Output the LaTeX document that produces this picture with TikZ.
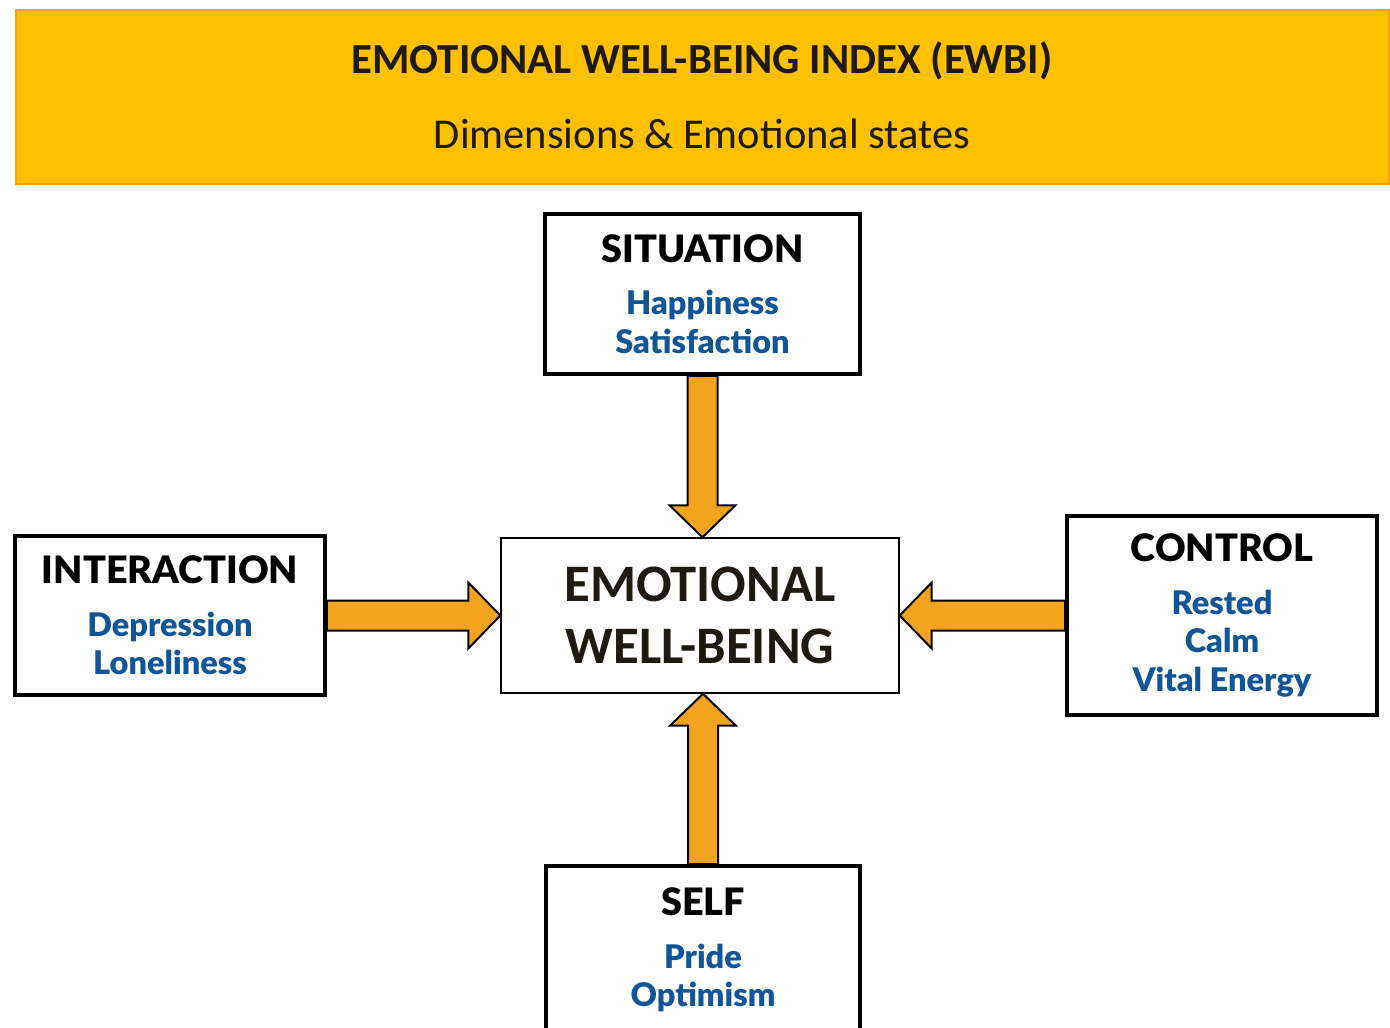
\documentclass[tikz,border=0pt]{standalone}
\usepackage{fontspec}
\setmainfont{Carlito}
\newfontfamily\boxfont{Lato}[BoldFont={Lato Black}]
\usetikzlibrary{calc,backgrounds}

\definecolor{bannerfill}{HTML}{FFC000}
\definecolor{bannerline}{HTML}{F4A11C}
\definecolor{arrowfill}{HTML}{F4A31E}
\definecolor{statecol}{HTML}{0F5597}
\definecolor{textdark}{HTML}{1E1A10}

\newcommand{\dimtitle}[1]{{\fontsize{21.5}{24}\selectfont\color{black}#1}}

\tikzset{
  dimbox/.style={draw=black, line width=0.08cm, fill=white, inner sep=0pt,
    minimum width=6.3cm, minimum height=3.2cm, align=center, text=statecol,
    font=\boxfont\bfseries\fontsize{18.5}{22}\selectfont},
  % block arrow from \tikztostart to \tikztotarget
  fatarrow/.style={draw=black, line width=0.04cm, fill=arrowfill, line join=miter,
    to path={
      ($(\tikztostart)!0.3cm!90:(\tikztotarget)$)
      -- ($(\tikztotarget)!0.64cm!(\tikztostart) + (\tikztostart)!0.3cm!90:(\tikztotarget) - (\tikztostart)$)
      -- ($(\tikztotarget)!0.64cm!(\tikztostart) + (\tikztostart)!0.66cm!90:(\tikztotarget) - (\tikztostart)$)
      -- (\tikztotarget)
      -- ($(\tikztotarget)!0.64cm!(\tikztostart) + (\tikztostart)!0.66cm!-90:(\tikztotarget) - (\tikztostart)$)
      -- ($(\tikztotarget)!0.64cm!(\tikztostart) + (\tikztostart)!0.3cm!-90:(\tikztotarget) - (\tikztostart)$)
      -- ($(\tikztostart)!0.3cm!-90:(\tikztotarget)$)
      -- cycle}}
}

\begin{document}
\begin{tikzpicture}[x=0.02cm, y=-0.02cm]
    \useasboundingbox (0,0) rectangle (1390,1028);
    \clip (0,0) rectangle (1390,1028);

    % banner
    \draw [fill=bannerfill, draw=bannerline, line width=0.04cm] (16,10) rectangle (1389,184);
    \node [anchor=base, text=textdark, font=\bfseries\fontsize{24.4}{28}\selectfont] (title) at (702,73) {EMOTIONAL WELL-BEING INDEX (EWBI)};
    \node [anchor=base, text=textdark, font=\fontsize{24.2}{28}\selectfont] (subtitle) at (702,148) {Dimensions \& Emotional states};

    % centre
    \node [draw=black, line width=0.03cm, minimum width=7.96cm, minimum height=3.1cm, align=center,
        text=textdark, font=\bfseries\fontsize{30}{35.7}\selectfont] (ewb) at (700,615.5) {EMOTIONAL\\WELL-BEING};

    % dimensions
    \node [dimbox] (sit) at (702.5,294) {\dimtitle{SITUATION}\\[8pt]Happiness\\Satisfaction};
    \node [dimbox, minimum width=6.2cm, minimum height=3.18cm] (inter) at (170,615.5) {\dimtitle{INTERACTION}\\[8pt]Depression\\Loneliness};
    \node [dimbox, minimum width=6.2cm, minimum height=3.98cm] (ctrl) at (1222,615.5) {\dimtitle{CONTROL}\\[8pt]Rested\\Calm\\Vital Energy};
    \node [dimbox, minimum height=3.36cm] (self) at (703,950) {\dimtitle{SELF}\\[8pt]Pride\\Optimism};

    \begin{scope}[on background layer]
    \draw [fatarrow] (sit.south) to (sit.south |- ewb.north);
    \draw [fatarrow] (inter.east) to (inter.east -| ewb.west);
    \draw [fatarrow] (ctrl.west) to (ctrl.west -| ewb.east);
    \draw [fatarrow] (self.north) to (self.north |- ewb.south);
    \end{scope}
\end{tikzpicture}
\end{document}
